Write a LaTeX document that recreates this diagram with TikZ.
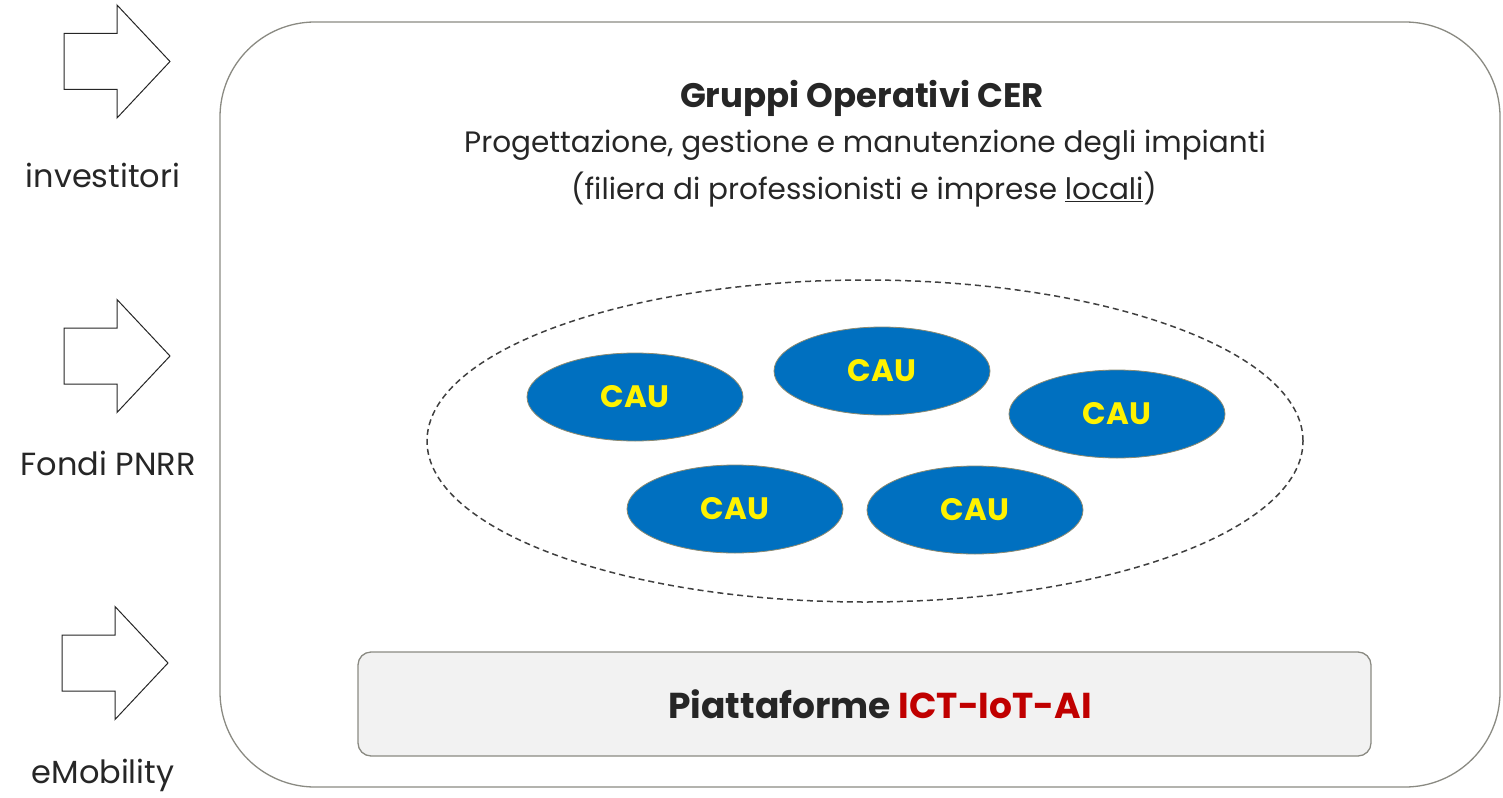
\documentclass[tikz,border=0pt]{standalone}
\usepackage{fontspec}
\setmainfont{Poppins}
\usetikzlibrary{shapes.geometric}
\definecolor{txt}{HTML}{262626}
\definecolor{dashgray}{HTML}{404040}
\definecolor{frame}{HTML}{8A8A82}
\definecolor{caublue}{HTML}{0070C0}
\definecolor{cauedge}{HTML}{8C8A70}
\definecolor{redtxt}{HTML}{C00000}
\definecolor{panel}{HTML}{F2F2F2}
\tikzset{
  inarrow/.style={draw=txt, fill=white, line width=1pt, line join=miter},
  sidelabel/.style={text=txt, font=\fontsize{32}{38}\selectfont},
  cau/.style={ellipse, draw=cauedge, line width=0.8pt, fill=caublue,
    minimum width=216pt, minimum height=88pt, inner sep=0pt,
    text=yellow, font=\fontsize{31}{36}\selectfont\bfseries},
}
% block arrow pointing right, tip at #1
\newcommand\blockarrow[1]{%
  \draw[inarrow] (#1) ++(-106,-28) -- ++(53,0) -- ++(0,-28.5) -- ++(53,56.5)
    -- ++(-53,56.5) -- ++(0,-28.5) -- ++(-53,0) -- cycle;}
\begin{document}
\begin{tikzpicture}[x=1pt,y=-1pt]
\useasboundingbox (0,0) rectangle (1503,797);
% outer frame
\draw[frame, line width=1.3pt, rounded corners=95pt] (220,22) rectangle (1500,787);
% incoming arrows and their labels
\coordinate (a1) at (170,61.5);
\coordinate (a2) at (170,356);
\coordinate (a3) at (168,663);
\blockarrow{a1}
\blockarrow{a2}
\blockarrow{a3}
\node[sidelabel] (l1) at (103,175) {investitori};
\node[sidelabel] (l2) at (108,463) {Fondi PNRR};
\node[sidelabel] (l3) at (103,775) {eMobility};
% heading
\node[text=txt, font=\fontsize{34}{40}\selectfont\bfseries] (title) at (862,98) {Gruppi Operativi CER};
\node[text=txt, font=\fontsize{29.5}{35}\selectfont] (sub1) at (865,145) {Progettazione, gestione e manutenzione degli impianti};
\node[text=txt, font=\fontsize{29.5}{35}\selectfont] (sub2) at (864,190) {(filiera di professionisti e imprese \underline{locali})};
% cluster
\node[ellipse, draw=dashgray, dash pattern=on 6pt off 4pt, line width=1.5pt, minimum width=876pt, minimum height=322pt, inner sep=0pt] (cluster) at (865,441) {};
\node[cau] (c1) at (635,397) {CAU};
\node[cau] (c2) at (882,371) {CAU};
\node[cau] (c3) at (1117,414) {CAU};
\node[cau] (c4) at (735,509) {CAU};
\node[cau] (c5) at (975,510) {CAU};
% platform bar
\node[draw=frame, fill=panel, line width=1.3pt, rounded corners=13pt, minimum width=1013pt, minimum height=104pt, inner sep=0pt] (platform) at (864.5,704) {};
\node[font=\fontsize{36}{42}\selectfont\bfseries, text=txt] (ptext) at (880,704) {Piattaforme \textcolor{redtxt}{ICT-IoT-AI}};
\end{tikzpicture}
\end{document}
